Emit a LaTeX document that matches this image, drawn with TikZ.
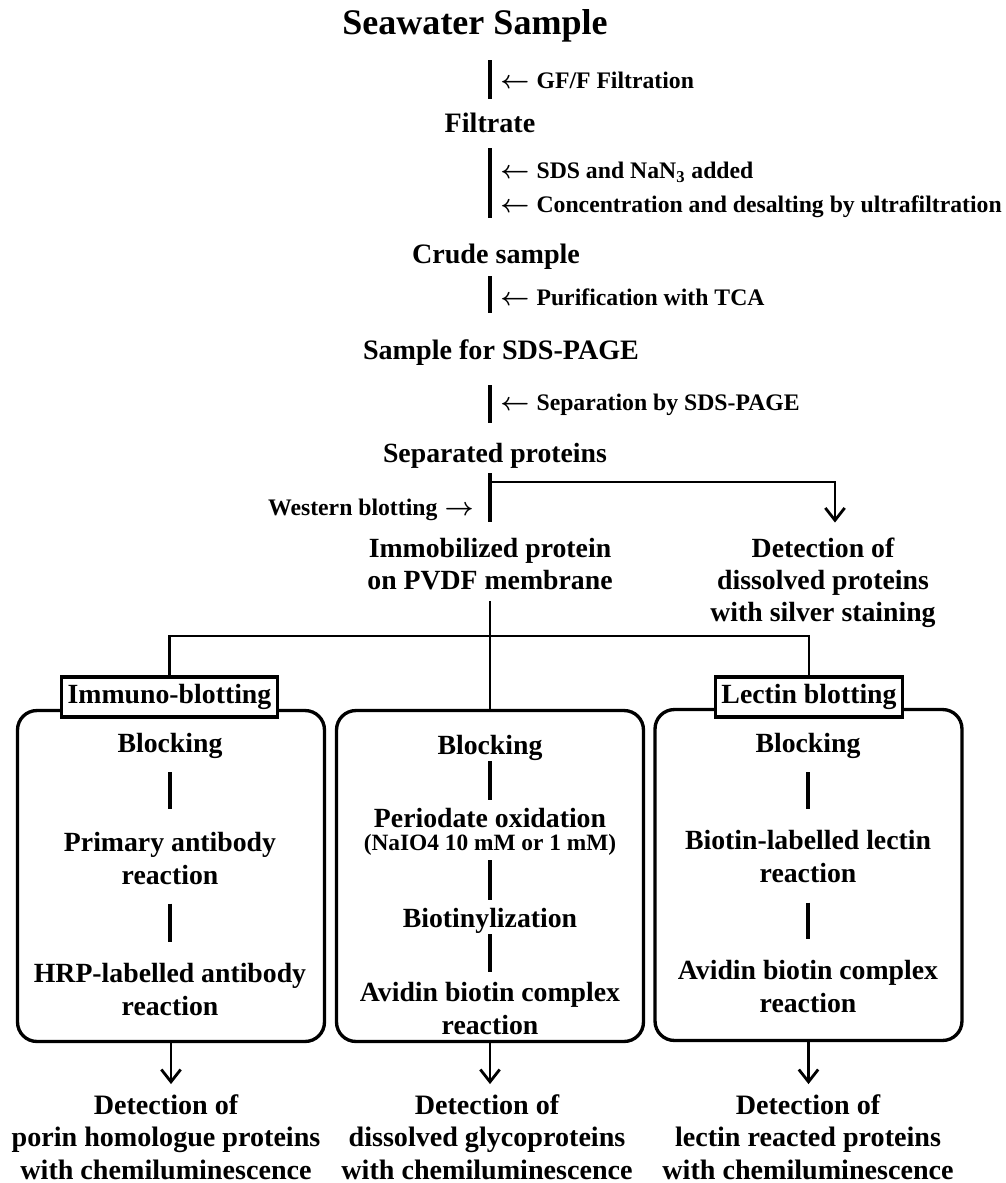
\documentclass[tikz,border=0pt]{standalone}
\usepackage{fontspec}
\setmainfont{Liberation Serif}
\usetikzlibrary{arrows.meta}
\newlength\px
\setlength\px{0.02cm}
\newcommand\lar{{\boldmath\(\leftarrow\)}\hspace{0.3em}}
\newcommand\rar{\hspace{0.3em}{\boldmath\(\rightarrow\)}}
\tikzset{
  title/.style={font=\fontsize{20.5}{24}\selectfont\bfseries, inner sep=0pt, text height=18.5pt, text depth=5pt},
  stage/.style={font=\fontsize{16}{19}\selectfont\bfseries, inner sep=0pt, text height=14.5pt, text depth=3.9pt},
  note/.style={font=\fontsize{13.5}{16}\selectfont\bfseries, inner sep=0pt, anchor=west},
  phase/.style={font=\fontsize{15.8}{18.2}\selectfont\bfseries, inner sep=0pt, align=center},
  inbox/.style={font=\fontsize{15.8}{18.8}\selectfont\bfseries, inner sep=0pt, align=center},
  oneline/.style={text height=14.2pt, text depth=3.8pt},
  small/.style={font=\fontsize{13.3}{16}\selectfont\bfseries, inner sep=0pt, text height=12pt, text depth=3.2pt},
  result/.style={font=\fontsize{16}{18.5}\selectfont\bfseries, inner sep=0pt, align=center},
  panel/.style={draw, line width=1.9pt, rounded corners=11pt, minimum width=6.14cm, minimum height=6.62cm, inner sep=0pt},
  tag/.style={draw, fill=white, line width=1.8pt, font=\fontsize{15.8}{18}\selectfont\bfseries, inner xsep=3.3pt, inner ysep=0pt, minimum height=0.8cm},
  bar/.style={line width=2.2pt},
  link/.style={line width=1.6pt},
  pointer/.style={line width=1.6pt, -{Straight Barb[length=7pt, width=11pt]}},
}
\begin{document}
\begin{tikzpicture}[x=0.02cm, y=-0.02cm]
  \useasboundingbox (0,0) rectangle (1006,1183);
  \coordinate (col) at (490,0);

  % main column
  \node[title] (seawater) at (475,23) {Seawater Sample};
  \node[note] (gff) at (500,80) {\lar GF/F Filtration};
  \node[stage] (filtrate) at (490,123) {Filtrate};
  \node[note] (sdsnan) at (500,172) {\lar SDS and NaN\textsubscript{3} added};
  \node[note] (uf) at (500,207) {\lar Concentration and desalting by ultrafiltration};
  \node[stage] (crude) at (496,254) {Crude sample};
  \node[note] (tca) at (500,297) {\lar Purification with TCA};
  \node[stage] (sdspage) at (501,350) {Sample for SDS-PAGE};
  \node[note] (page) at (500,405) {\lar Separation by SDS-PAGE};
  \node[phase, oneline] (separated) at (495,453) {Separated proteins};
  \node[note, anchor=east] (western) at (474,510) {Western blotting\rar};
  \node[phase] (immob) at (490,564) {Immobilized protein\\on PVDF membrane};
  \node[phase] (silver) at (823,583) {Detection of\\dissolved proteins\\with silver staining};

  \draw[bar, shorten <=16.4\px, shorten >=7.8\px] (seawater.south -| col) -- (filtrate.north -| col);
  \draw[bar, shorten <=8.8\px, shorten >=19.8\px] (filtrate.south -| col) -- (crude.north -| col);
  \draw[bar, shorten <=5.8\px, shorten >=20.8\px] (crude.south -| col) -- (sdspage.north -| col);
  \draw[bar, shorten <=18.8\px, shorten >=14.2\px] (sdspage.south -| col) -- (separated.north -| col);
  \draw[bar, shorten <=4.2\px, shorten >=16.3\px] (separated.south -| col) -- (immob.north -| col);
  \coordinate (fork) at (490,482);
  \draw[pointer, shorten >=15.3\px] (fork) -| ([xshift=12\px]silver.north);

  % three blotting panels
  \node[panel] (leftbox) at (171,876) {};
  \node[panel] (midbox) at (490,876) {};
  \node[panel] (rightbox) at (808.5,875) {};
  \draw[link, shorten <=10.8\px] (immob.south -| col) -- (midbox.north);
  \coordinate (hub) at (490,636);
  \node[tag] (immtag) at (169.5,697) {Immuno-blotting};
  \node[tag] (lectag) at (809,697) {Lectin blotting};
  \draw[link] (immtag.north) |- (hub) -| (lectag.north);

  % immuno-blotting
  \node[inbox, oneline] (block1) at (170,743) {Blocking};
  \node[inbox] (primary) at (170,858.3) {Primary antibody\\reaction};
  \node[inbox] (hrp) at (170,989.8) {HRP-labelled antibody\\reaction};
  \draw[bar, shorten <=13.2\px, shorten >=22.3\px] (block1.south) -- (primary.north);
  \draw[bar, shorten <=18.8\px, shorten >=21.3\px] (primary.south) -- (hrp.north);

  % periodate route
  \node[inbox, oneline] (block2) at (490,745) {Blocking};
  \node[inbox, oneline] (periodate) at (490,818) {Periodate oxidation};
  \node[small] (naio) at (490,843) {(NaIO4 10 mM or 1 mM)};
  \node[inbox, oneline] (biotinyl) at (490,918) {Biotinylization};
  \node[inbox] (abc2) at (490,1008.3) {Avidin biotin complex\\reaction};
  \draw[bar, shorten >=2.2\px] (block2.south) -- (periodate.north);
  \draw[bar, shorten <=3.6\px, shorten >=2.2\px] (naio.south) -- (biotinyl.north);
  \draw[bar, shorten >=9.3\px] (biotinyl.south) -- (abc2.north);

  % lectin blotting
  \node[inbox, oneline] (block3) at (808,743) {Blocking};
  \node[inbox] (lectin) at (808,856.3) {Biotin-labelled lectin\\reaction};
  \node[inbox] (abc3) at (808,986.3) {Avidin biotin complex\\reaction};
  \draw[bar, shorten <=13.2\px, shorten >=20.3\px] (block3.south) -- (lectin.north);
  \draw[bar, shorten <=19.8\px, shorten >=20.3\px] (lectin.south) -- (abc3.north);

  % detection
  \node[result] (porin) at (166,1137) {Detection of\\porin homologue proteins\\with chemiluminescence};
  \node[result] (glyco) at (487,1137) {Detection of\\dissolved glycoproteins\\with chemiluminescence};
  \node[result] (lectres) at (808,1137) {Detection of\\lectin reacted proteins\\with chemiluminescence};
  \draw[pointer, shorten >=10\px] (leftbox.south) -- (leftbox.south |- porin.north);
  \draw[pointer, shorten >=10\px] (midbox.south) -- (midbox.south |- glyco.north);
  \draw[pointer, shorten >=10\px] (rightbox.south) -- (rightbox.south |- lectres.north);
\end{tikzpicture}
\end{document}
